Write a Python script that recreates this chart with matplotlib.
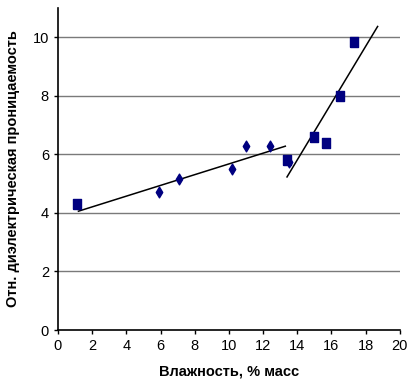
import matplotlib
matplotlib.use("Agg")
import matplotlib.pyplot as plt

plt.rcParams['font.family'] = ['Liberation Sans', 'DejaVu Sans']

diamond_x = [5.9, 7.1, 10.2, 11.0, 12.4, 13.5]
diamond_y = [4.7, 5.15, 5.5, 6.3, 6.3, 5.75]
square_x = [1.1, 13.4, 15.0, 15.7, 16.5, 17.3]
square_y = [4.3, 5.8, 6.6, 6.4, 8.0, 9.85]
trend1_x = [1.2, 13.3]
trend1_y = [4.06, 6.28]
trend2_x = [13.4, 18.7]
trend2_y = [5.23, 10.37]

xticks = [0, 2, 4, 6, 8, 10, 12, 14, 16, 18, 20]
yticks = [0, 2, 4, 6, 8, 10]

rect_marker = [(-0.38, -0.5), (0.38, -0.5), (0.38, 0.5), (-0.38, 0.5), (-0.38, -0.5)]

fig = plt.figure(figsize=(4.08, 3.82), dpi=100)
ax = fig.add_axes([0.142, 0.136, 0.838, 0.843])

for t in yticks[1:]:
    ax.axhline(t, color='#7a7a7a', lw=1.0, zorder=1)

ax.plot(trend1_x, trend1_y, color='black', lw=1.1, zorder=2)
ax.plot(trend2_x, trend2_y, color='black', lw=1.1, zorder=2)
ax.scatter(diamond_x, diamond_y, marker='d', s=30, color='#000080', zorder=3)
ax.scatter(square_x, square_y, marker=rect_marker, s=48, color='#000080', zorder=3)

ax.set_xlim(0, 20)
ax.set_ylim(0, 11)
ax.set_xticks(xticks)
ax.set_yticks(yticks)
ax.tick_params(axis='both', labelsize=10.5, length=3, width=1, color='black', direction='out')
ax.spines['top'].set_visible(False)
ax.spines['right'].set_visible(False)
ax.spines['left'].set_linewidth(1.2)
ax.spines['bottom'].set_linewidth(1.2)

ax.set_xlabel('Влажность, % масс', fontsize=10.5, fontweight='bold', labelpad=8)
ax.set_ylabel('Отн. диэлектрическая проницаемость', fontsize=10.5, fontweight='bold', labelpad=9)

fig.savefig('out.png', dpi=100)
